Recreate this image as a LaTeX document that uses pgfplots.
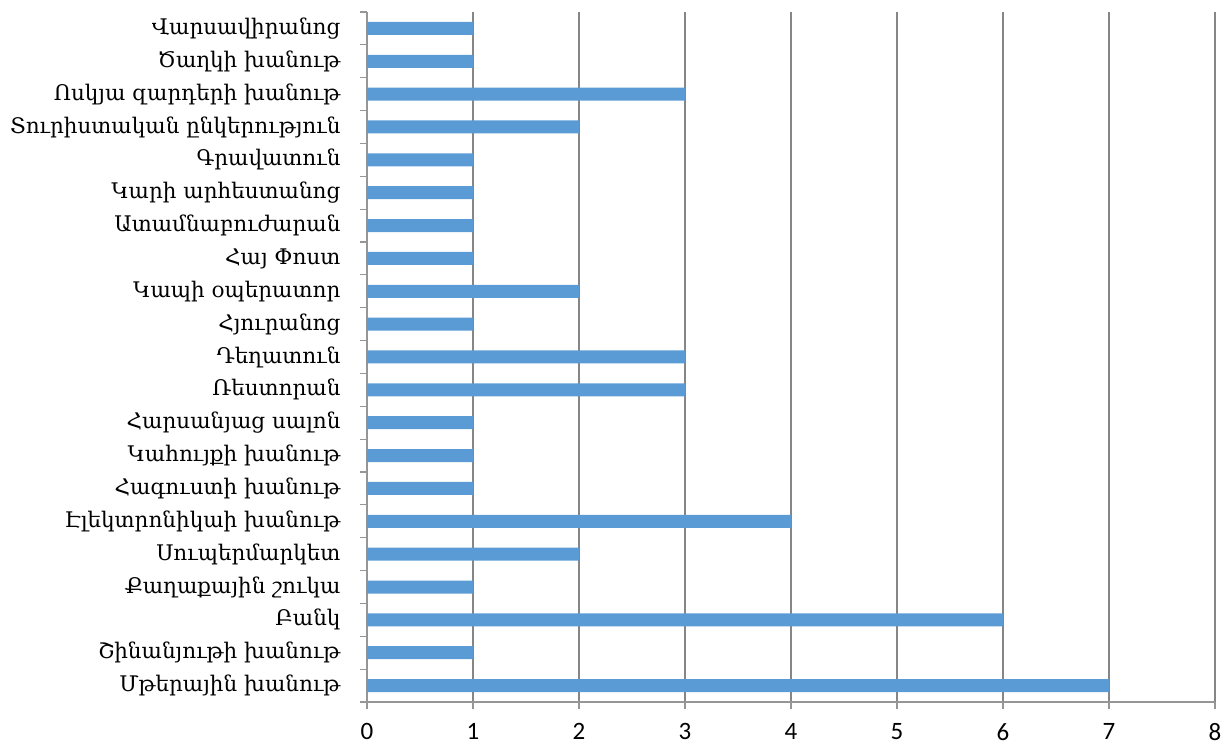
\documentclass[border=0pt]{standalone}
\usepackage{fontspec}
\setmainfont{Carlito}
\newfontfamily\armfont{DejaVu Serif}
\usepackage{pgfplots}
\pgfplotsset{compat=1.18}
\definecolor{barblue}{RGB}{91,155,213}
\definecolor{gridgray}{RGB}{134,134,134}
\definecolor{axisgray}{RGB}{150,150,150}

\begin{document}
\begin{tikzpicture}
  \begin{axis}[
    at={(0,0)}, anchor=south west,
    scale only axis,
    width=848pt, height=690pt,
    xmin=0, xmax=8,
    ymin=-0.5, ymax=20.5,
    xtick={0,1,...,8},
    % category boundaries carry the tick marks
    ytick={-0.5,0.5,...,20.5},
    yticklabels={},
    % category names sit at the bar centres, without marks
    extra y ticks={0,1,...,20},
    extra y tick labels={Մթերային խանութ,Շինանյութի խանութ,Բանկ,Քաղաքային շուկա,Սուպերմարկետ,Էլեկտրոնիկաի խանութ,Հագուստի խանութ,Կահույքի խանութ,Հարսանյաց սալոն,Ռեստորան,Դեղատուն,Հյուրանոց,Կապի օպերատոր,Հայ Փոստ,Ատամնաբուժարան,Կարի արհեստանոց,Գրավատուն,Տուրիստական ընկերություն,Ոսկյա զարդերի խանութ,Ծաղկի խանութ,Վարսավիրանոց},
    extra y tick style={major tick length=0pt},
    axis lines*=left,
    axis line style={axisgray, line width=1.2pt, -},
    tick align=outside,
    xtick pos=bottom, ytick pos=left,
    major tick length=7pt,
    xtick style={axisgray, line width=1.2pt},
    ytick style={axisgray, line width=1.2pt},
    xmajorgrids,
    grid style={gridgray, line width=1.2pt},
    /pgf/number format/assume math mode=true,
    xticklabel style={font=\fontsize{25}{27}\selectfont, yshift=-11pt},
    yticklabel style={font=\armfont\fontsize{21.5}{24}\selectfont, xshift=-23pt},
  ]
  \addplot[xbar, fill=barblue, draw=none, bar width=13pt] coordinates {
    (7,0) (1,1) (6,2) (1,3) (2,4) (4,5) (1,6) (1,7) (1,8) (3,9) (3,10)
    (1,11) (2,12) (1,13) (1,14) (1,15) (1,16) (2,17) (3,18) (1,19) (1,20)
  };
  \end{axis}
  \path[use as bounding box] (-367pt,-45pt) rectangle (861pt,702pt);
\end{tikzpicture}
\end{document}
